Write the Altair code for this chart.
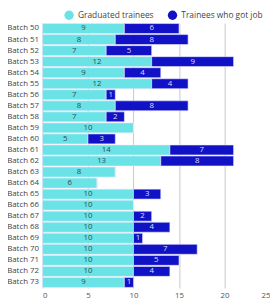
import altair as alt
import pandas as pd

batches = [f"Batch {i}" for i in range(50, 74)]
graduated = [9, 8, 7, 12, 9, 12, 7, 8, 7, 10, 5, 14, 13, 8, 6, 10, 10, 10, 10, 10, 10, 10, 10, 9]
got_job = [6, 8, 5, 9, 4, 4, 1, 8, 2, 0, 3, 7, 8, 0, 0, 3, 0, 2, 4, 1, 7, 5, 4, 1]
series = ["Graduated trainees", "Trainees who got job"]
colors = ["#6ae3e6", "#1111c6"]
label_colors = ["#2f4f4f", "#dcdcf5"]

rows = []
for b, g, j in zip(batches, graduated, got_job):
    rows.append({"batch": b, "series": series[0], "value": g, "order": 0})
    rows.append({"batch": b, "series": series[1], "value": j, "order": 1})
df = pd.DataFrame(rows)

font = "Open Sans"

base = alt.Chart(df).transform_stack(
    stack="value", as_=["x0", "x1"], groupby=["batch"],
    sort=[alt.SortField("order", order="ascending")]
).transform_calculate(mid="(datum.x0 + datum.x1) / 2")

y = alt.Y("batch:N", sort=batches, title=None,
          scale=alt.Scale(paddingInner=0.1, paddingOuter=0.05),
          axis=alt.Axis(domain=False, ticks=False, labelFontSize=8, labelColor="#444",
                        labelFont=font, labelPadding=4))

bars = base.mark_bar(stroke="#e8e8ff", strokeWidth=0.6).encode(
    x=alt.X("x0:Q", title=None,
            scale=alt.Scale(domain=[0, 25], nice=False),
            axis=alt.Axis(values=[0, 5, 10, 15, 20, 25], grid=True, gridColor="#c8c8c8",
                          gridWidth=1, domain=False, ticks=False, labelFontSize=8,
                          labelColor="#555", labelFont=font, labelPadding=4)),
    x2="x1:Q",
    y=y,
    color=alt.Color("series:N", scale=alt.Scale(domain=series, range=colors),
                    legend=alt.Legend(title=None, orient="none", direction="horizontal",
                                      legendX=22, legendY=-13, symbolType="circle",
                                      symbolSize=90, symbolStrokeWidth=0,
                                      labelFontSize=8.5, labelColor="#444", labelFont=font,
                                      columnPadding=14)),
)

labels = base.transform_filter("datum.value > 0").mark_text(
    fontSize=8, font=font, baseline="middle", align="center"
).encode(
    x="mid:Q",
    y=y,
    text="value:Q",
    color=alt.Color("series:N", scale=alt.Scale(domain=series, range=label_colors), legend=None),
)

chart = alt.layer(bars, labels).resolve_scale(color="independent").properties(
    width=231, height=269,
    autosize=alt.AutoSizeParams(type="none"),
    padding={"left": 35, "top": 13, "right": 0, "bottom": 10},
).configure_view(stroke=None)

chart.save("out.html", embed_options={"renderer": "svg", "actions": False})
